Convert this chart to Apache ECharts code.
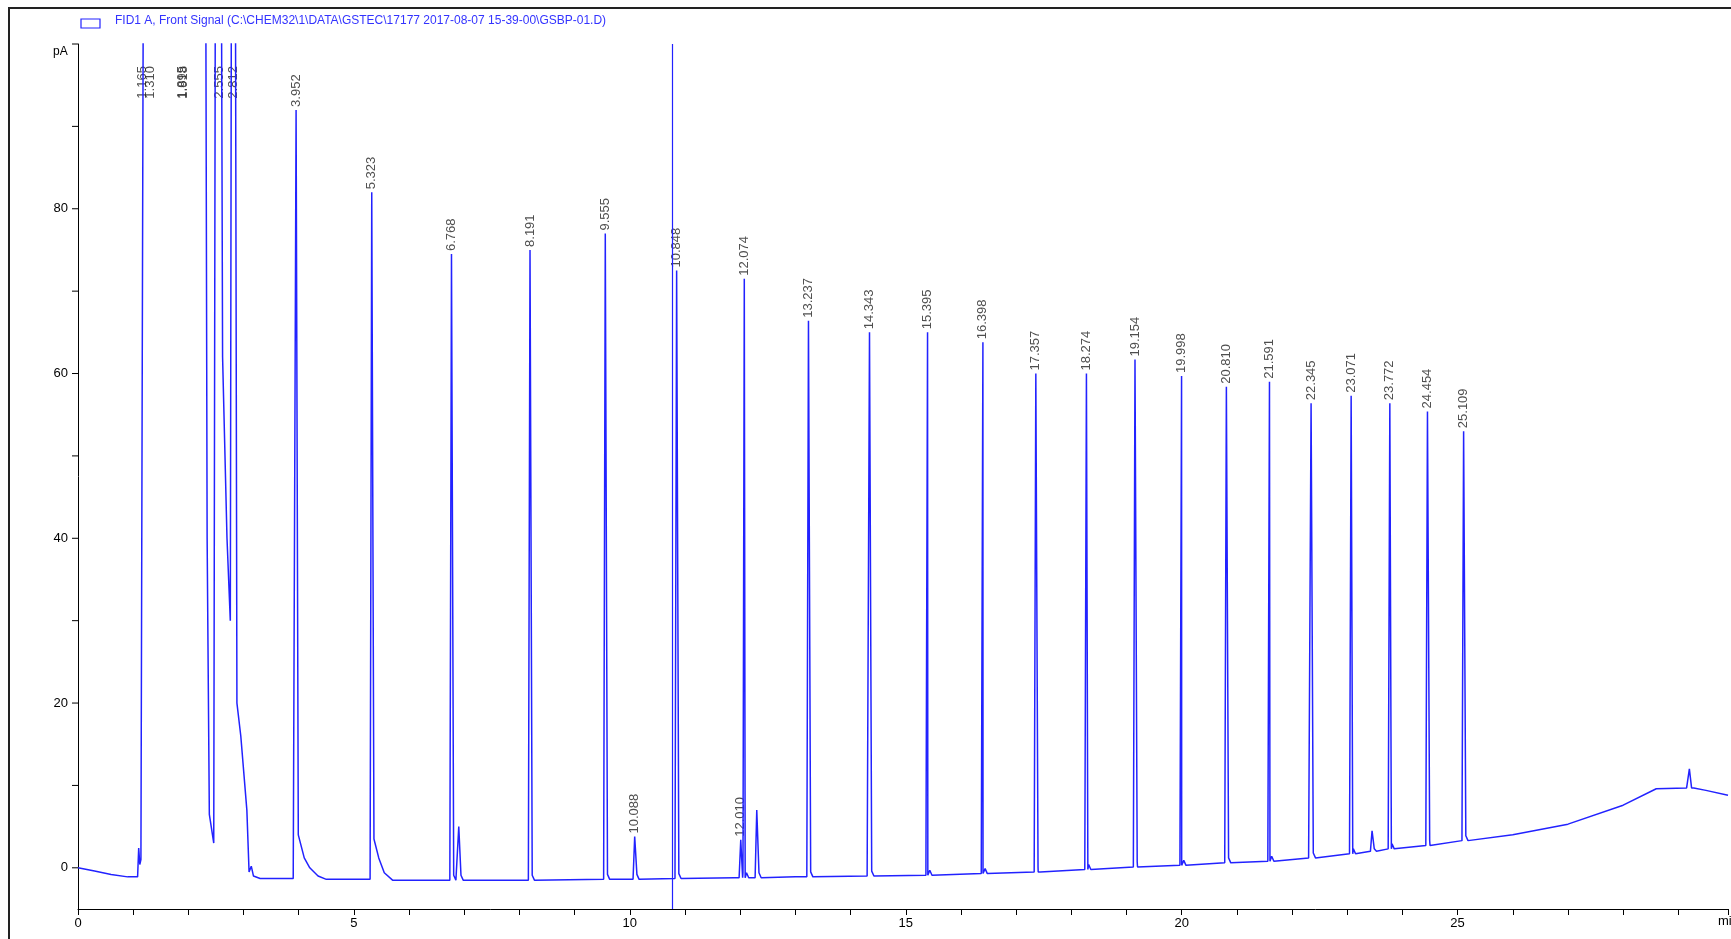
<!DOCTYPE html>
<html>
<head>
<meta charset="UTF-8">
<title>FID1 A</title>
<script src="https://cdn.jsdelivr.net/npm/echarts@6/dist/echarts.min.js"></script>
<style>
  html, body { margin: 0; padding: 0; background: #fff; }
  #main { width: 1731px; height: 939px; }
</style>
</head>
<body>
<div id="main"></div>
<script>
// baseline / broad features [time, pA]
var baseline = [
  [0, 0], [0.3, -0.4], [0.6, -0.8], [0.9, -1.1], [1.08, -1.1], [1.1, 2.4], [1.12, 0.4], [1.14, 1.0],
  [1.2, 150], [2.3, 150], [2.34, 40], [2.38, 6.5], [2.46, 3], [2.5, 150], [2.58, 150], [2.62, 62],
  [2.7, 40], [2.76, 30], [2.79, 150], [2.84, 150], [2.88, 20], [2.95, 16], [3.06, 7],
  [3.1, -0.5], [3.14, 0.2], [3.18, -1.0], [3.3, -1.3], [3.9, -1.3],
  [4.1, 1.2], [4.2, 0], [4.35, -1.0], [4.5, -1.4], [5.3, -1.4], [5.45, 1.2], [5.55, -0.6], [5.7, -1.5],
  [8.0, -1.5], [10.0, -1.4], [11.9, -1.2], [13.0, -1.1], [14.3, -1.0], [15.4, -0.9], [16.4, -0.7],
  [17.4, -0.5], [18.3, -0.2], [19.2, 0.1], [20.0, 0.3], [20.8, 0.6], [21.6, 0.8], [22.3, 1.2],
  [23.1, 1.7], [23.8, 2.3], [24.5, 2.7], [25.1, 3.3], [26.0, 4.0], [27.0, 5.3], [28.0, 7.6],
  [28.6, 9.6], [29.15, 9.7], [29.5, 9.4], [29.9, 8.8]
];
// peaks [retention time, apex pA, local base, tail pA]
var peaks = [
  [3.952, 92, -1.3, 4], [5.323, 82, -1.4, 3.5], [6.768, 74.5, -1.5, -0.9], [6.9, 5, -1.5, -0.9], [8.191, 75, -1.5, -0.9],
  [9.555, 77, -1.4, -0.8], [10.088, 3.8, -1.4, -0.8], [10.848, 72.5, -1.3, -0.7], [12.010, 3.4, -1.2, -0.6],
  [12.074, 71.5, -1.2, -0.6], [12.3, 7, -1.2, -0.6], [13.237, 66.4, -1.1, -0.5], [14.343, 65, -1.0, -0.4],
  [15.395, 65, -0.9, -0.3], [16.398, 63.8, -0.7, -0.1], [17.357, 60, -0.5, 0.1], [18.274, 60, -0.2, 0.4],
  [19.154, 61.7, 0.1, 0.7], [19.998, 59.7, 0.3, 0.9], [20.810, 58.4, 0.6, 1.2], [21.591, 59, 0.8, 1.4],
  [22.345, 56.4, 1.2, 1.8], [23.071, 57.3, 1.7, 2.3], [23.45, 4.5, 2.0, 2.3], [23.772, 56.4, 2.3, 2.9],
  [24.454, 55.4, 2.7, 3.3], [25.109, 53, 3.3, 3.9], [29.2, 12, 9.7, 9.7]
];
// retention time labels [text, time, label anchor pA]
var rtLabels = [
  ['1.165', 1.165, 93], ['1.310', 1.310, 93], ['1.895', 1.895, 93], ['1.918', 1.918, 93],
  ['2.555', 2.555, 93], ['2.812', 2.812, 93], ['3.952', 3.952, 92], ['5.323', 5.323, 82],
  ['6.768', 6.768, 74.5], ['8.191', 8.191, 75], ['9.555', 9.555, 77], ['10.088', 10.088, 3.8],
  ['10.848', 10.848, 72.5], ['12.010', 12.010, 3.4], ['12.074', 12.074, 71.5], ['13.237', 13.237, 66.4],
  ['14.343', 14.343, 65], ['15.395', 15.395, 65], ['16.398', 16.398, 63.8], ['17.357', 17.357, 60],
  ['18.274', 18.274, 60], ['19.154', 19.154, 61.7], ['19.998', 19.998, 59.7], ['20.810', 20.810, 58.4],
  ['21.591', 21.591, 59], ['22.345', 22.345, 56.4], ['23.071', 23.071, 57.3], ['23.772', 23.772, 56.4],
  ['24.454', 24.454, 55.4], ['25.109', 25.109, 53]
];
var yTicks = [0, 10, 20, 30, 40, 50, 60, 70, 80, 90, 100];
var cursorTime = 10.77;

var signal = baseline.slice();
peaks.forEach(function (p) {
  signal.push([p[0] - 0.03, p[2]], [p[0], p[1]], [p[0] + 0.04, p[3]]);
  if (p[3] - p[2] < 1) signal.push([p[0] + 0.08, p[2]]);
});
signal.sort(function (a, b) { return a[0] - b[0]; });

var blue = '#2222ff';
var chart = echarts.init(document.getElementById('main'));
chart.setOption({
  animation: false,
  grid: { left: 78, right: 0, top: 44, bottom: 30 },
  xAxis: {
    type: 'value', min: 0, max: 29.9, interval: 1,
    axisLine: { onZero: false, lineStyle: { color: '#000', width: 1 } },
    axisTick: { length: 6, lineStyle: { color: '#000' } },
    axisLabel: { color: '#000', fontSize: 13, fontFamily: 'Liberation Sans Narrow, Arial',
      formatter: function (v) { return v % 5 === 0 ? v : ''; } },
    splitLine: { show: false }
  },
  yAxis: {
    type: 'value', min: -5, max: 100, interval: 5,
    axisLine: { show: true, onZero: false, lineStyle: { color: '#000', width: 1 } },
    axisTick: { show: false },
    axisLabel: { color: '#000', fontSize: 13, margin: 10, fontFamily: 'Liberation Sans Narrow, Arial',
      formatter: function (v) { return (v % 20 === 0 && v < 100) ? v : ''; } },
    splitLine: { show: false }
  },
  graphic: [
    { type: 'rect', shape: { x: 9, y: 8, width: 1740, height: 960 }, style: { fill: 'none', stroke: '#222', lineWidth: 2 } },
    { type: 'rect', shape: { x: 81, y: 19, width: 19, height: 9 }, style: { fill: 'none', stroke: blue, lineWidth: 1.2 } },
    { type: 'text', left: 115, top: 15, style: { text: 'FID1 A, Front Signal (C:\\CHEM32\\1\\DATA\\GSTEC\\17177 2017-08-07 15-39-00\\GSBP-01.D)',
      fill: '#3333ff', font: '12px "Liberation Sans Narrow", Arial' } },
    { type: 'text', left: 53, top: 46, style: { text: 'pA', fill: '#000', font: '12px "Liberation Sans Narrow", Arial' } },
    { type: 'text', left: 1718, top: 915, style: { text: 'min', fill: '#000', font: '13px "Liberation Sans Narrow", Arial' } }
  ],
  series: [
    {
      type: 'line', data: signal, showSymbol: false, clip: true,
      lineStyle: { color: blue, width: 1.5 },
      markLine: { silent: true, symbol: 'none', label: { show: false },
        lineStyle: { color: blue, width: 1.2, type: 'solid' }, data: [{ xAxis: cursorTime }] }
    },
    {
      type: 'scatter', symbolSize: 0, silent: true,
      data: rtLabels.map(function (l) { return { value: [l[1], l[2]], name: l[0] }; }),
      label: { show: true, position: 'top', rotate: 90, align: 'left', verticalAlign: 'middle', distance: 3,
        formatter: function (p) { return p.name; }, color: '#222', fontSize: 13,
        fontFamily: 'Liberation Sans, Arial' }
    },
    {
      type: 'custom', silent: true, data: yTicks.map(function (v) { return [0, v]; }),
      renderItem: function (params, api) {
        var pt = api.coord([api.value(0), api.value(1)]);
        return { type: 'line', shape: { x1: pt[0] - 6, y1: pt[1], x2: pt[0], y2: pt[1] }, style: { stroke: '#000', lineWidth: 1 } };
      }
    }
  ]
});
</script>
</body>
</html>
